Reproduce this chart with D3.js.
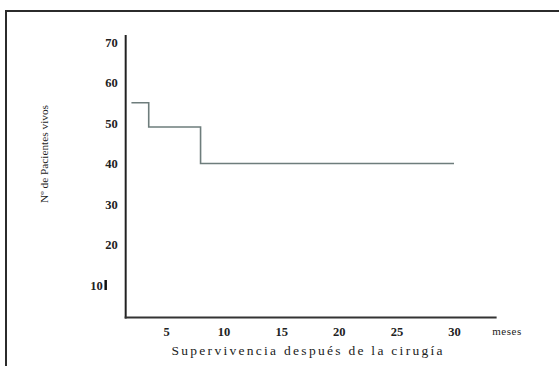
<!DOCTYPE html>
<html>
<head>
<meta charset="utf-8">
<script src="https://cdn.jsdelivr.net/npm/d3@7"></script>
<style>
  body { margin: 0; background: #fff; }
  svg { display: block; }
  text { font-family: "Liberation Serif", "DejaVu Serif", serif; fill: #222; }
</style>
</head>
<body>
<div id="chart"></div>
<script>
const WIDTH = 559, HEIGHT = 366

// survival steps: month where each level starts, patients alive
const months   = [2, 3.5, 8, 30]
const patients = [55, 49, 40, 40]
const xTicks = [5, 10, 15, 20, 25, 30]
const yTicks = [10, 20, 30, 40, 50, 60, 70]

const xLabel = 'Supervivencia después de la cirugía'
const yLabel = 'Nº de Pacientes vivos'
const xUnit  = 'meses'

const svg = d3.select('#chart').append('svg').attr('width', WIDTH).attr('height', HEIGHT)
svg.append('rect').attr('width', WIDTH).attr('height', HEIGHT).attr('fill', '#fff')

// old scanned frame (left + top edges)
svg.append('path')
  .attr('d', `M6,${HEIGHT} V11 H${WIDTH}`)
  .attr('fill', 'none').attr('stroke', '#2b2b2b').attr('stroke-width', 2)

const x = d3.scaleLinear().domain([0, 30]).range([108.4, 454])
const y = d3.scaleLinear().domain([0, 70]).range([325.5, 42])

const X0 = x(1.5), X1 = x(33.7)
const Y0 = 317.5, YT = 35

// ── axes ─────────────────────────────────────────────────────
const gX = svg.append('g').attr('transform', `translate(0,${Y0})`)
gX.call(d3.axisBottom(x).tickValues(xTicks).tickSize(0).tickPadding(10))
gX.select('.domain').remove()
gX.selectAll('text').style('font-size', '12.5px').style('font-weight', 'bold').attr('fill', '#222')

const gY = svg.append('g').attr('transform', `translate(${X0},0)`)
gY.call(d3.axisLeft(y).tickValues(yTicks).tickSize(0).tickPadding(8))
gY.select('.domain').remove()
gY.selectAll('text').style('font-size', '12.5px').style('font-weight', 'bold').attr('fill', '#222')
// the 10 label sits further left, with a stray bar after it
gY.selectAll('.tick').filter(d => d === 10).select('text').attr('dx', -15)

svg.append('line')
  .attr('x1', X0 - 20).attr('x2', X0 - 20)
  .attr('y1', y(10) - 5).attr('y2', y(10) + 5)
  .attr('stroke', '#111').attr('stroke-width', 2.5)

svg.append('line').attr('x1', X0).attr('x2', X0).attr('y1', YT).attr('y2', Y0 + 1)
  .attr('stroke', '#222').attr('stroke-width', 2)
svg.append('line').attr('x1', X0 - 1).attr('x2', X1).attr('y1', Y0).attr('y2', Y0)
  .attr('stroke', '#333').attr('stroke-width', 2)

svg.append('text').attr('x', x(30) + 53).attr('y', Y0 + 10).attr('dy', '0.71em')
  .attr('text-anchor', 'middle').style('font-size', '11px').style('letter-spacing', '0.5px')
  .text(xUnit)

svg.append('text').attr('x', 307).attr('y', 350).attr('dy', '0.35em')
  .attr('text-anchor', 'middle').style('font-size', '13.5px')
  .attr('textLength', 271).attr('lengthAdjust', 'spacing')
  .text(xLabel)

svg.append('text')
  .attr('transform', `translate(44,154) rotate(-90)`)
  .attr('dy', '0.35em').attr('text-anchor', 'middle').style('font-size', '11px')
  .attr('textLength', 98).attr('lengthAdjust', 'spacingAndGlyphs')
  .text(yLabel)

// ── survival curve ───────────────────────────────────────────
const data = months.map((m, i) => ({ m, v: patients[i] }))
svg.append('path').datum(data)
  .attr('d', d3.line().x(d => x(d.m)).y(d => y(d.v)).curve(d3.curveStepAfter))
  .attr('fill', 'none').attr('stroke', '#6e7d7c').attr('stroke-width', 1.6)
</script>
</body>
</html>
